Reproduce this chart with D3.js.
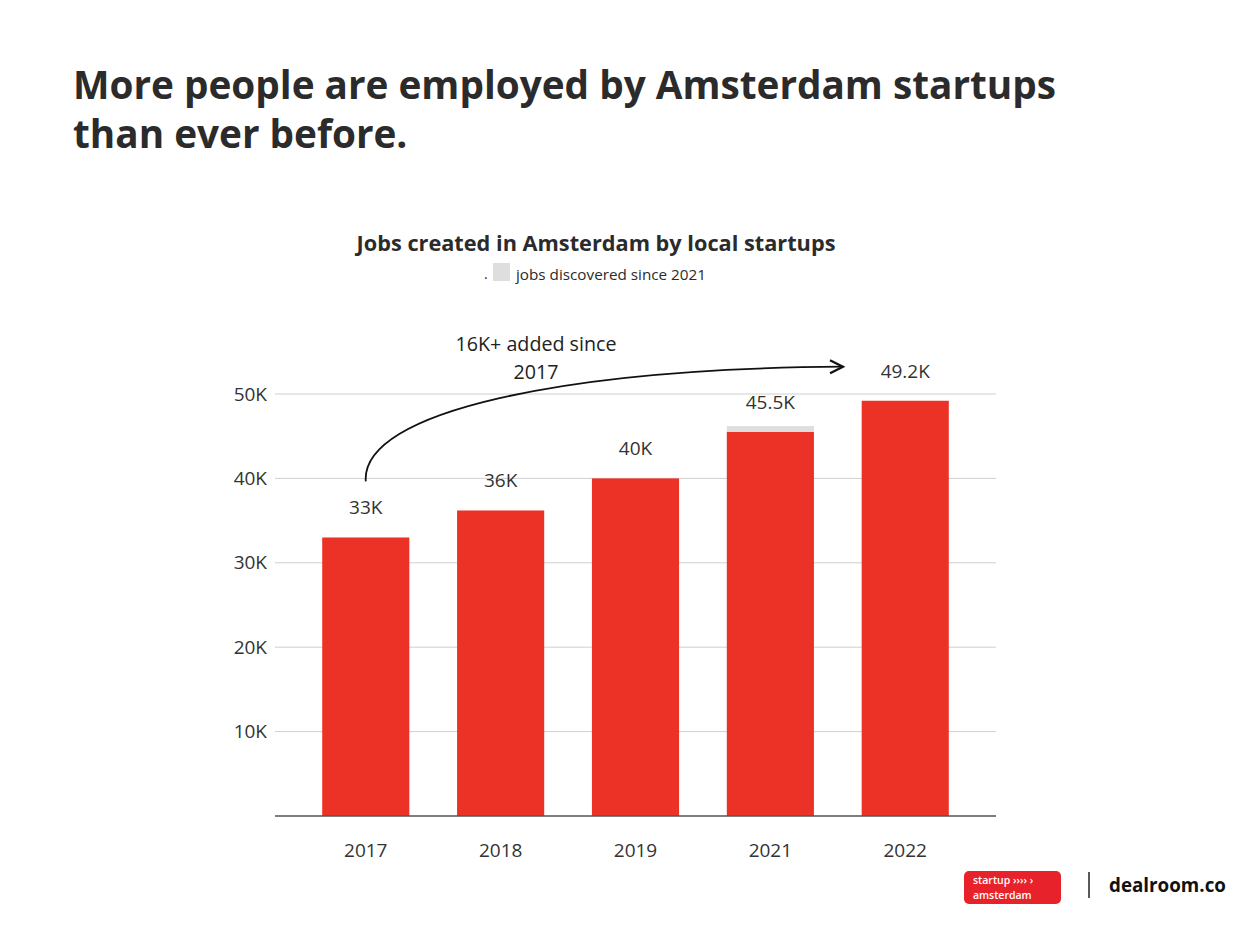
<!DOCTYPE html>
<html>
<head>
<meta charset="utf-8">
<script src="https://cdn.jsdelivr.net/npm/d3@7"></script>
<style>
  body { margin: 0; background: #fff; }
  svg { display: block; font-family: "Open Sans", sans-serif; }
</style>
</head>
<body>
<svg id="chart" width="1250" height="932"></svg>
<script>
const years = ['2017', '2018', '2019', '2021', '2022'];
const jobs = [33000, 36200, 40000, 45500, 49200];
const discovered = [0, 0, 0, 700, 0];
const valueLabels = ['33K', '36K', '40K', '45.5K', '49.2K'];
const yTicks = [10000, 20000, 30000, 40000, 50000];

const red = '#ec3226';
const grey = '#dedede';
const ink = '#2b2b2b';

const svg = d3.select('#chart');

// scale a text's font size so it spans the given width
function fit(sel, w) {
  const fs = +sel.attr('font-size');
  const len = sel.node().getComputedTextLength();
  sel.attr('font-size', fs * w / len);
  return sel;
}

// title
const t1 = svg.append('text').attr('x', 73).attr('y', 99).attr('font-size', 38).attr('font-weight', 700).attr('fill', ink)
  .text('More people are employed by Amsterdam startups');
fit(t1, 983);
svg.append('text').attr('x', 73).attr('y', 148).attr('font-size', t1.attr('font-size')).attr('font-weight', 700).attr('fill', ink)
  .text('than ever before.');

fit(svg.append('text').attr('x', 596).attr('y', 251).attr('text-anchor', 'middle')
  .attr('font-size', 20).attr('font-weight', 700).attr('fill', ink)
  .text('Jobs created in Amsterdam by local startups'), 479);

// legend
svg.append('text').attr('x', 484).attr('y', 279).attr('font-size', 14).attr('fill', ink).text('.');
svg.append('rect').attr('x', 493).attr('y', 263).attr('width', 17).attr('height', 18).attr('fill', grey);
fit(svg.append('text').attr('x', 516).attr('y', 280).attr('font-size', 14).attr('fill', ink).text('jobs discovered since 2021'), 190);

// scales
const x = d3.scaleBand().domain(years).range([275, 996]).paddingInner(0.354).paddingOuter(0.35);
const y = d3.scaleLinear().domain([0, 50000]).range([816, 394]);

const g = svg.append('g');

g.append('g')
  .call(d3.axisLeft(y).tickValues(yTicks).tickSize(0).tickPadding(0).tickFormat(d => d / 1000 + 'K'))
  .attr('transform', 'translate(267,0)')
  .call(a => a.select('.domain').remove())
  .selectAll('text').attr('font-size', 19).attr('fill', '#333').attr('font-family', '"Open Sans", sans-serif');

g.append('g')
  .selectAll('line')
  .data(yTicks)
  .join('line')
  .attr('x1', 275).attr('x2', 996)
  .attr('y1', d => y(d)).attr('y2', d => y(d))
  .attr('stroke', '#cfcfcf').attr('stroke-width', 1);

// bars
g.append('g').selectAll('rect')
  .data(years)
  .join('rect')
  .attr('x', d => x(d))
  .attr('width', x.bandwidth())
  .attr('y', (d, i) => y(jobs[i] + discovered[i]))
  .attr('height', (d, i) => y(jobs[i]) - y(jobs[i] + discovered[i]))
  .attr('fill', grey);

g.append('g').selectAll('rect')
  .data(years)
  .join('rect')
  .attr('x', d => x(d))
  .attr('width', x.bandwidth())
  .attr('y', (d, i) => y(jobs[i]))
  .attr('height', (d, i) => y(0) - y(jobs[i]))
  .attr('fill', red);

g.append('g').selectAll('text')
  .data(years)
  .join('text')
  .attr('x', d => x(d) + x.bandwidth() / 2)
  .attr('y', (d, i) => y(jobs[i]) - 23)
  .attr('text-anchor', 'middle')
  .attr('font-size', 19).attr('fill', '#333')
  .text((d, i) => valueLabels[i]);

// baseline + x axis
g.append('line').attr('x1', 275).attr('x2', 996).attr('y1', y(0)).attr('y2', y(0))
  .attr('stroke', '#555').attr('stroke-width', 1.5);

g.append('g')
  .attr('transform', `translate(0,${y(0)})`)
  .call(d3.axisBottom(x).tickSize(0).tickPadding(28))
  .call(a => a.select('.domain').remove())
  .selectAll('text').attr('font-size', 19).attr('fill', '#333').attr('font-family', '"Open Sans", sans-serif');

// annotation
const a1 = svg.append('text').attr('x', 536).attr('y', 351).attr('text-anchor', 'middle').attr('font-size', 19).attr('fill', '#222')
  .text('16K+ added since');
fit(a1, 161);
svg.append('text').attr('x', 536).attr('y', 379).attr('text-anchor', 'middle').attr('font-size', a1.attr('font-size')).attr('fill', '#222')
  .text('2017');

svg.append('defs').append('marker')
  .attr('id', 'arrow').attr('viewBox', '0 0 10 10').attr('refX', 9).attr('refY', 5)
  .attr('markerWidth', 9).attr('markerHeight', 9).attr('orient', 'auto')
  .append('path').attr('d', 'M1,1 L9,5 L1,9').attr('fill', 'none').attr('stroke', '#111').attr('stroke-width', 1.4);

const x0 = x('2017') + x.bandwidth() / 2;
svg.append('path')
  .attr('d', `M${x0},${y(40000) + 3} C${x0 - 5},${y(48000)} ${x0 + 200},${y(53000)} 843,${y(53000) - 2}`)
  .attr('fill', 'none').attr('stroke', '#111').attr('stroke-width', 1.8)
  .attr('marker-end', 'url(#arrow)');

// logos
const logo = svg.append('g').attr('transform', 'translate(964,871)');
logo.append('rect').attr('width', 97).attr('height', 33).attr('rx', 5).attr('fill', '#e8222b');
logo.append('text').attr('x', 9).attr('y', 13).attr('font-size', 10.5).attr('fill', '#fff').attr('font-weight', 600).text('startup ›››› ›');
logo.append('text').attr('x', 9).attr('y', 28).attr('font-size', 10.5).attr('fill', '#fff').attr('font-weight', 600).text('amsterdam');
svg.append('line').attr('x1', 1089).attr('x2', 1089).attr('y1', 872).attr('y2', 898).attr('stroke', '#222').attr('stroke-width', 1.5);
fit(svg.append('text').attr('x', 1109).attr('y', 892).attr('font-size', 21).attr('font-weight', 700).attr('fill', '#111')
  .text('dealroom.co'), 117);
</script>
</body>
</html>
